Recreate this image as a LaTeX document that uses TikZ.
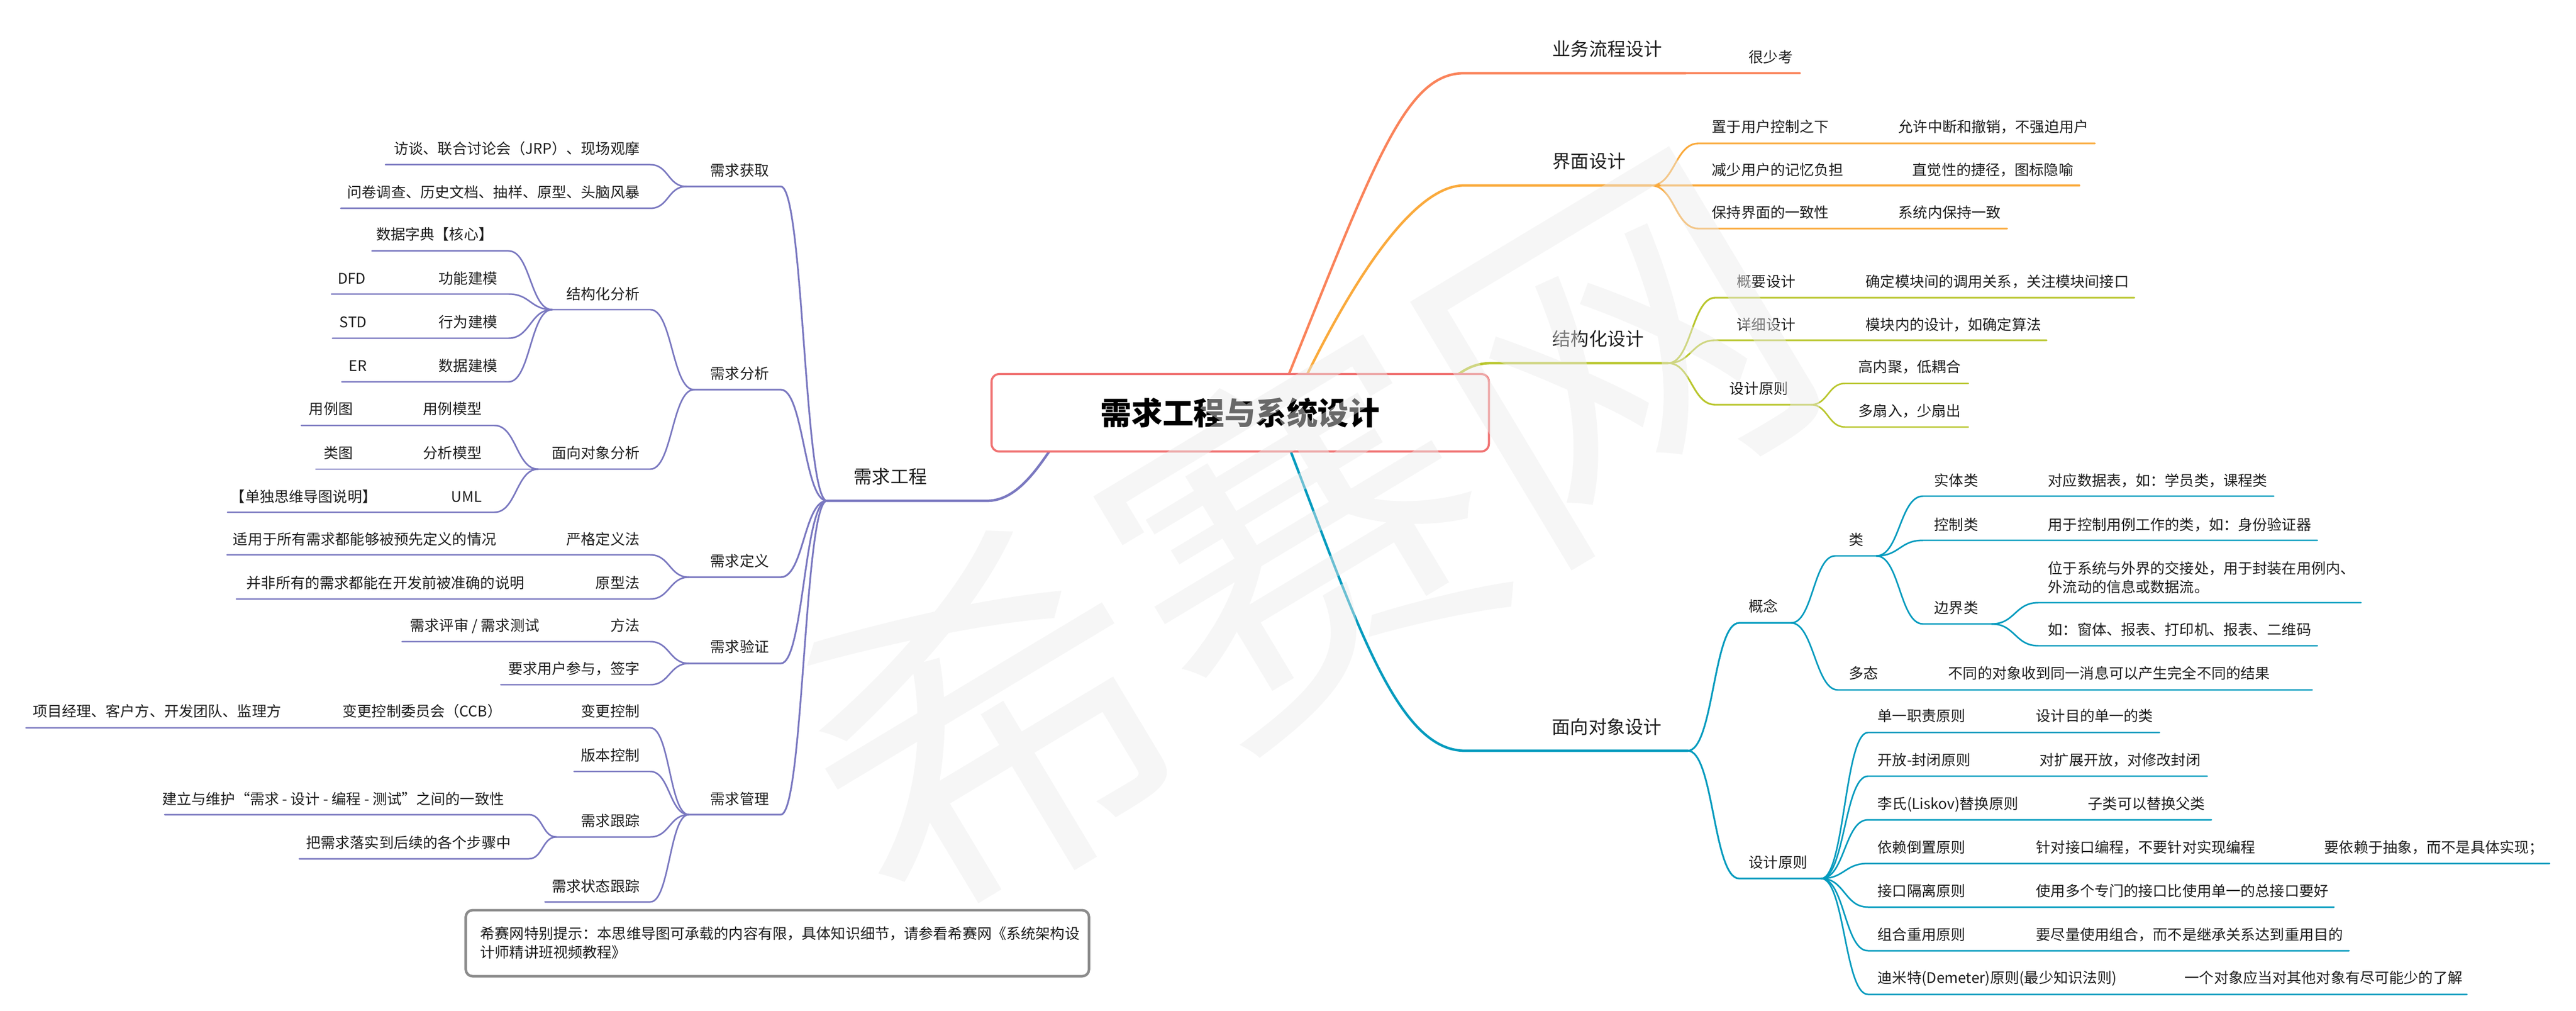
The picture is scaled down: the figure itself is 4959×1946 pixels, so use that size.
\documentclass[tikz,border=0pt]{standalone}
\usepackage{fontspec}
\setmainfont{Noto Sans CJK SC}
\definecolor{cRed}{HTML}{F07272}
\definecolor{cPur}{HTML}{7A78C0}
\definecolor{cCor}{HTML}{FA835A}
\definecolor{cOra}{HTML}{FAAA3C}
\definecolor{cGrn}{HTML}{B9C62D}
\definecolor{cTea}{HTML}{039BBE}
\definecolor{cBox}{HTML}{8C8C8C}
\definecolor{cWm}{HTML}{EBEBEB}
\definecolor{cTxt}{HTML}{1E1E1E}
\begin{document}
\begin{tikzpicture}[x=0.01cm,y=-0.01cm,
  sconn/.style={to path={.. controls +(#1,0) and +(-#1,0) .. (\tikztotarget)}},
  sconn/.default=45,
  lA/.style={line width=1.35pt,line cap=round},
  lB/.style={line width=0.95pt,line cap=round},
  lC/.style={line width=0.85pt,line cap=round},
  ts/.style={inner sep=0pt,font=\fontsize{8}{10}\selectfont,text height=7.04pt,text depth=0.96pt,text=cTxt},
  tsb/.style={inner sep=0pt,font=\fontsize{8}{10}\selectfont,align=left,text=cTxt},
  tm/.style={inner sep=0pt,font=\fontsize{10}{12}\selectfont,text height=8.8pt,text depth=1.2pt,text=cTxt},
]
\useasboundingbox (0,0) rectangle (4959,1946);

% ================= LEFT: 需求工程 =================
\coordinate (puS) at (2071,795);
\coordinate (xqgcL) at (1592,964);
\coordinate (xqgcR) at (1900,964);
\draw[lA,cPur] (puS) .. controls (2020,860) and (1975,964) .. (xqgcR) -- (xqgcL);
\node[tm,anchor=west] (xqgc) at (1643,917) {需求工程};

% level 2
\coordinate (hqL) at (1321,359); \coordinate (hqR) at (1503,359);
\coordinate (fxL) at (1336,750); \coordinate (fxR) at (1503,750);
\coordinate (dyL) at (1326,1111); \coordinate (dyR) at (1503,1111);
\coordinate (yzL) at (1326,1277); \coordinate (yzR) at (1503,1277);
\coordinate (glL) at (1326,1568); \coordinate (glR) at (1503,1568);
\draw[lB,cPur] (hqL) -- (hqR) to[sconn=44] (xqgcL);
\draw[lB,cPur] (fxL) -- (fxR) to[sconn=44] (xqgcL);
\draw[lB,cPur] (dyL) -- (dyR) to[sconn=44] (xqgcL);
\draw[lB,cPur] (yzL) -- (yzR) to[sconn=44] (xqgcL);
\draw[lB,cPur] (glL) -- (glR) to[sconn=44] (xqgcL);
\node[ts,anchor=east] (hq) at (1481,328) {需求获取};
\node[ts,anchor=east] (fx) at (1481,719) {需求分析};
\node[ts,anchor=east] (dy) at (1481,1080) {需求定义};
\node[ts,anchor=east] (yz) at (1481,1245) {需求验证};
\node[ts,anchor=east] (gl) at (1481,1538) {需求管理};

% 需求获取 children
\coordinate (ftL) at (742,317); \coordinate (ftR) at (1252,317);
\coordinate (wjL) at (656,401); \coordinate (wjR) at (1252,401);
\draw[lC,cPur] (ftL) -- (ftR) to[sconn=35] (hqL);
\draw[lC,cPur] (wjL) -- (wjR) to[sconn=35] (hqL);
\node[ts,anchor=east] (ft) at (1232,286) {访谈、联合讨论会（JRP）、现场观摩};
\node[ts,anchor=east] (wj) at (1232,370) {问卷调查、历史文档、抽样、原型、头脑风暴};

% 需求分析 children
\coordinate (jgL) at (1063,596); \coordinate (jgR) at (1252,596);
\coordinate (mxfL) at (1036,903); \coordinate (mxfR) at (1252,903);
\draw[lC,cPur] (jgL) -- (jgR) to[sconn=42] (fxL);
\draw[lC,cPur] (mxfL) -- (mxfR) to[sconn=42] (fxL);
\node[ts,anchor=east] (jg) at (1232,566) {结构化分析};
\node[ts,anchor=east] (mxf) at (1232,872) {面向对象分析};

\coordinate (sjzdL) at (716,483); \coordinate (sjzdR) at (979,483);
\coordinate (gnjL) at (638,566); \coordinate (gnjR) at (979,566);
\coordinate (xwjL) at (640,651); \coordinate (xwjR) at (979,651);
\coordinate (sjjL) at (658,735); \coordinate (sjjR) at (979,735);
\draw[lC,cPur] (sjzdL) -- (sjzdR) to[sconn=42] (jgL);
\draw[lC,cPur] (gnjL) -- (gnjR) to[sconn=42] (jgL);
\draw[lC,cPur] (xwjL) -- (xwjR) to[sconn=42] (jgL);
\draw[lC,cPur] (sjjL) -- (sjjR) to[sconn=42] (jgL);
\node[ts,anchor=east] (sjzd) at (950,451) {数据字典【核心】};
\node[ts,anchor=east] (gnj) at (958,536) {功能建模};
\node[ts,anchor=east] (dfd) at (705,536) {DFD};
\node[ts,anchor=east] (xwj) at (958,620) {行为建模};
\node[ts,anchor=east] (std) at (707,620) {STD};
\node[ts,anchor=east] (sjj) at (958,704) {数据建模};
\node[ts,anchor=east] (er) at (707,704) {ER};

\coordinate (ylmL) at (580,819); \coordinate (ylmR) at (952,819);
\coordinate (fxmL) at (608,903); \coordinate (fxmR) at (952,903);
\coordinate (umlL) at (438,986); \coordinate (umlR) at (952,986);
\draw[lC,cPur] (ylmL) -- (ylmR) to[sconn=42] (mxfL);
\draw[lC,cPur] (fxmL) -- (fxmR) to[sconn=42] (mxfL);
\draw[lC,cPur] (umlL) -- (umlR) to[sconn=42] (mxfL);
\node[ts,anchor=east] (ylm) at (928,787) {用例模型};
\node[ts,anchor=east] (ylt) at (680,787) {用例图};
\node[ts,anchor=east] (fxm) at (928,872) {分析模型};
\node[ts,anchor=east] (lt) at (680,872) {类图};
\node[ts,anchor=east] (uml) at (928,956) {UML};
\node[ts,anchor=east] (ddsm) at (726,956) {【单独思维导图说明】};

% 需求定义 children
\coordinate (ygL) at (437,1068); \coordinate (ygR) at (1252,1068);
\coordinate (yxL) at (455,1153); \coordinate (yxR) at (1252,1153);
\draw[lC,cPur] (ygL) -- (ygR) to[sconn=37] (dyL);
\draw[lC,cPur] (yxL) -- (yxR) to[sconn=37] (dyL);
\node[ts,anchor=east] (yg) at (1232,1038) {严格定义法};
\node[ts,anchor=east] (yga) at (956,1038) {适用于所有需求都能够被预先定义的情况};
\node[ts,anchor=east] (yx) at (1232,1122) {原型法};
\node[ts,anchor=east] (yxa) at (1010,1122) {并非所有的需求都能在开发前被准确的说明};

% 需求验证 children
\coordinate (ffL) at (774,1235); \coordinate (ffR) at (1252,1235);
\coordinate (yqL) at (964,1318); \coordinate (yqR) at (1252,1318);
\draw[lC,cPur] (ffL) -- (ffR) to[sconn=37] (yzL);
\draw[lC,cPur] (yqL) -- (yqR) to[sconn=37] (yzL);
\node[ts,anchor=east] (ff) at (1232,1204) {方法};
\node[ts,anchor=east] (ffa) at (1039,1204) {需求评审 / 需求测试};
\node[ts,anchor=east] (yq) at (1232,1287) {要求用户参与，签字};

% 需求管理 children
\coordinate (bgL) at (50,1401); \coordinate (bgR) at (1252,1401);
\coordinate (bbL) at (1105,1485); \coordinate (bbR) at (1252,1485);
\coordinate (gzL) at (1071,1611); \coordinate (gzR) at (1252,1611);
\coordinate (ztL) at (1049,1736); \coordinate (ztR) at (1252,1736);
\draw[lC,cPur] (bgL) -- (bgR) to[sconn=37] (glL);
\draw[lC,cPur] (bbL) -- (bbR) to[sconn=37] (glL);
\draw[lC,cPur] (gzL) -- (gzR) to[sconn=37] (glL);
\draw[lC,cPur] (ztL) -- (ztR) to[sconn=37] (glL);
\node[ts,anchor=east] (bg) at (1232,1369) {变更控制};
\node[ts,anchor=east] (bga) at (967,1369) {变更控制委员会（CCB）};
\node[ts,anchor=east] (bgb) at (542,1369) {项目经理、客户方、开发团队、监理方};
\node[ts,anchor=east] (bb) at (1232,1454) {版本控制};
\node[ts,anchor=east] (gz) at (1232,1580) {需求跟踪};
\node[ts,anchor=east] (zt) at (1232,1706) {需求状态跟踪};

\coordinate (jlL) at (317,1568); \coordinate (jlR) at (1018,1568);
\coordinate (bxL) at (576,1653); \coordinate (bxR) at (1018,1653);
\draw[lC,cPur] (jlL) -- (jlR) to[sconn=27] (gzL);
\draw[lC,cPur] (bxL) -- (bxR) to[sconn=27] (gzL);
\node[ts,anchor=east] (jl) at (971,1538) {建立与维护“需求 - 设计 - 编程 - 测试”之间的一致性};
\node[ts,anchor=east] (bx) at (984,1622) {把需求落实到后续的各个步骤中};

% note box
\node[draw=cBox,line width=1.4pt,rounded corners=0.13cm,minimum width=11.99cm,minimum height=1.27cm,inner sep=0pt] (notebox) at (1496.5,1815.5) {};
\node[tsb,anchor=base west] (notetxt) at (924,1843) {希赛网特别提示：本思维导图可承载的内容有限，具体知识细节，请参看希赛网《系统架构设\\计师精讲班视频教程》};

% ================= RIGHT: main branches =================
\coordinate (coS) at (2451,795);
\coordinate (ywL) at (2818,141); \coordinate (ywR) at (3245,141); \coordinate (ywcR) at (3465,141);
\draw[lA,cCor] (coS) .. controls (2640,330) and (2700,141) .. (ywL) -- (ywR);
\draw[lB,cCor] (ywR) -- (ywcR);
\node[tm,anchor=west] (yw) at (2988,94) {业务流程设计};
\node[ts,anchor=west] (ywc) at (3366,110) {很少考};

\coordinate (orS) at (2481,795);
\coordinate (jmL) at (2818,357); \coordinate (jmR) at (3178,357);
\draw[lA,cOra] (orS) .. controls (2596,545) and (2720,357) .. (jmL) -- (jmR);
\node[tm,anchor=west] (jm) at (2988,310) {界面设计};

\coordinate (grS) at (2600,795);
\coordinate (jgsL) at (2871,699); \coordinate (jgsR) at (3211,699);
\draw[lA,cGrn] (grS) .. controls (2790,795) and (2780,699) .. (jgsL) -- (jgsR);
\node[tm,anchor=west] (jgs) at (2988,652) {结构化设计};

\coordinate (teS) at (2456,795);
\coordinate (mxL) at (2820,1445); \coordinate (mxR) at (3249,1445);
\draw[lA,cTea] (teS) .. controls (2600,1160) and (2680,1445) .. (mxL) -- (mxR);
\node[tm,anchor=west] (mx) at (2987,1399) {面向对象设计};

% 界面设计 children
\coordinate (jm1L) at (3270,276); \coordinate (jm1R) at (4033,276);
\coordinate (jm2L) at (3270,357); \coordinate (jm2R) at (4003,357);
\coordinate (jm3L) at (3270,440); \coordinate (jm3R) at (3864,440);
\draw[lB,cOra] (jmR) to[sconn=46] (jm1L) -- (jm1R);
\draw[lB,cOra] (jmR) -- (jm2L) -- (jm2R);
\draw[lB,cOra] (jmR) to[sconn=46] (jm3L) -- (jm3R);
\node[ts,anchor=west] (jm1) at (3295,244) {置于用户控制之下};
\node[ts,anchor=west] (jm1a) at (3654,244) {允许中断和撤销，不强迫用户};
\node[ts,anchor=west] (jm2) at (3295,327) {减少用户的记忆负担};
\node[ts,anchor=west] (jm2a) at (3681,327) {直觉性的捷径，图标隐喻};
\node[ts,anchor=west] (jm3) at (3295,409) {保持界面的一致性};
\node[ts,anchor=west] (jm3a) at (3654,409) {系统内保持一致};

% 结构化设计 children
\coordinate (gyL) at (3302,573); \coordinate (gyR) at (4109,573);
\coordinate (xxL) at (3302,655); \coordinate (xxR) at (3940,655);
\coordinate (sy1L) at (3302,779); \coordinate (sy1R) at (3486,779);
\draw[lB,cGrn] (jgsR) to[sconn=45] (gyL) -- (gyR);
\draw[lB,cGrn] (jgsR) to[sconn=45] (xxL) -- (xxR);
\draw[lB,cGrn] (jgsR) to[sconn=45] (sy1L) -- (sy1R);
\node[ts,anchor=west] (gy) at (3343,542) {概要设计};
\node[ts,anchor=west] (gya) at (3591,542) {确定模块间的调用关系，关注模块间接口};
\node[ts,anchor=west] (xx) at (3343,625) {详细设计};
\node[ts,anchor=west] (xxa) at (3591,625) {模块内的设计，如确定算法};
\node[ts,anchor=west] (sy1) at (3329,748) {设计原则};
\coordinate (gnjhL) at (3552,738); \coordinate (gnjhR) at (3789,738);
\coordinate (dsrL) at (3552,822); \coordinate (dsrR) at (3789,822);
\draw[lC,cGrn] (sy1R) to[sconn=33] (gnjhL) -- (gnjhR);
\draw[lC,cGrn] (sy1R) to[sconn=33] (dsrL) -- (dsrR);
\node[ts,anchor=west] (gnjh) at (3577,706) {高内聚，低耦合};
\node[ts,anchor=west] (dsr) at (3577,791) {多扇入，少扇出};

% 面向对象设计 children
\coordinate (gnL) at (3348,1199); \coordinate (gnR) at (3448,1199);
\coordinate (sy2L) at (3348,1691); \coordinate (sy2R) at (3506,1691);
\draw[lB,cTea] (mxR) to[sconn=50] (gnL) -- (gnR);
\draw[lB,cTea] (mxR) to[sconn=50] (sy2L) -- (sy2R);
\node[ts,anchor=west] (gn) at (3366,1167) {概念};
\node[ts,anchor=west] (sy2) at (3366,1660) {设计原则};

\coordinate (leiL) at (3533,1070); \coordinate (leiR) at (3612,1070);
\coordinate (dtL) at (3538,1328); \coordinate (dtR) at (4451,1328);
\draw[lC,cTea] (gnR) to[sconn=42] (leiL) -- (leiR);
\draw[lC,cTea] (gnR) to[sconn=43] (dtL) -- (dtR);
\node[ts,anchor=west] (lei) at (3559,1039) {类};
\node[ts,anchor=west] (dt) at (3559,1296) {多态};
\node[ts,anchor=west] (dta) at (3750,1296) {不同的对象收到同一消息可以产生完全不同的结果};

\coordinate (stL) at (3702,955); \coordinate (stR) at (4377,955);
\coordinate (kzL) at (3702,1040); \coordinate (kzR) at (4461,1040);
\coordinate (bjL) at (3702,1201); \coordinate (bjR) at (3834,1201);
\draw[lC,cTea] (leiR) to[sconn=45] (stL) -- (stR);
\draw[lC,cTea] (leiR) to[sconn=45] (kzL) -- (kzR);
\draw[lC,cTea] (leiR) to[sconn=45] (bjL) -- (bjR);
\node[ts,anchor=west] (st) at (3723,925) {实体类};
\node[ts,anchor=west] (sta) at (3942,925) {对应数据表，如：学员类，课程类};
\node[ts,anchor=west] (kz) at (3723,1010) {控制类};
\node[ts,anchor=west] (kza) at (3942,1010) {用于控制用例工作的类，如：身份验证器};
\node[ts,anchor=west] (bj) at (3723,1170) {边界类};

\coordinate (bj1L) at (3924,1160); \coordinate (bj1R) at (4545,1160);
\coordinate (bj2L) at (3924,1243); \coordinate (bj2R) at (4461,1243);
\draw[lC,cTea] (bjR) to[sconn=45] (bj1L) -- (bj1R);
\draw[lC,cTea] (bjR) to[sconn=45] (bj2L) -- (bj2R);
\node[tsb,anchor=base west] (bj1) at (3942,1140) {位于系统与外界的交接处，用于封装在用例内、\\外流动的信息或数据流。};
\node[ts,anchor=west] (bj2) at (3942,1212) {如：窗体、报表、打印机、报表、二维码};

% 设计原则 (OO)
\coordinate (p1L) at (3596,1410); \coordinate (p1R) at (4157,1410);
\coordinate (p2L) at (3596,1494); \coordinate (p2R) at (4249,1494);
\coordinate (p3L) at (3596,1578); \coordinate (p3R) at (4257,1578);
\coordinate (p4L) at (3596,1662); \coordinate (p4R) at (4908,1662);
\coordinate (p5L) at (3596,1746); \coordinate (p5R) at (4493,1746);
\coordinate (p6L) at (3596,1830); \coordinate (p6R) at (4522,1830);
\coordinate (p7L) at (3596,1914); \coordinate (p7R) at (4749,1914);
\foreach \p in {p1,p2,p3,p4,p5,p6,p7}{
  \draw[lC,cTea] (sy2R) to[sconn=45] (\p L) -- (\p R);
}
\node[ts,anchor=west] (p1) at (3614,1378) {单一职责原则};
\node[ts,anchor=west] (p1a) at (3919,1378) {设计目的单一的类};
\node[ts,anchor=west] (p2) at (3614,1463) {开放-封闭原则};
\node[ts,anchor=west] (p2a) at (3926,1463) {对扩展开放，对修改封闭};
\node[ts,anchor=west] (p3) at (3614,1547) {李氏(Liskov)替换原则};
\node[ts,anchor=west] (p3a) at (4019,1547) {子类可以替换父类};
\node[ts,anchor=west] (p4) at (3614,1631) {依赖倒置原则};
\node[ts,anchor=west] (p4a) at (3919,1631) {针对接口编程，不要针对实现编程};
\node[ts,anchor=west] (p4b) at (4474,1631) {要依赖于抽象，而不是具体实现；};
\node[ts,anchor=west] (p5) at (3614,1715) {接口隔离原则};
\node[ts,anchor=west] (p5a) at (3919,1715) {使用多个专门的接口比使用单一的总接口要好};
\node[ts,anchor=west] (p6) at (3614,1799) {组合重用原则};
\node[ts,anchor=west] (p6a) at (3919,1799) {要尽量使用组合，而不是继承关系达到重用目的};
\node[ts,anchor=west] (p7) at (3614,1882) {迪米特(Demeter)原则(最少知识法则)};
\node[ts,anchor=west] (p7a) at (4205,1882) {一个对象应当对其他对象有尽可能少的了解};

% ================= central topic =================
\node[draw=cRed,line width=1.15pt,fill=white,rounded corners=0.15cm,
      minimum width=9.57cm,minimum height=1.49cm,inner sep=0pt,
      font=\fontsize{17}{20}\selectfont\bfseries,text height=14.96pt,text depth=2.04pt,text=black]
      (root) at (2387.5,794.5) {需求工程与系统设计};

% ================= watermark =================
\node[rotate=31,text=cWm,opacity=0.45,inner sep=0pt,font=\fontsize{200}{200}\selectfont,
      text height=176pt,text depth=24pt] (wm) at (2505,1036) {希赛网};
\end{tikzpicture}
\end{document}
